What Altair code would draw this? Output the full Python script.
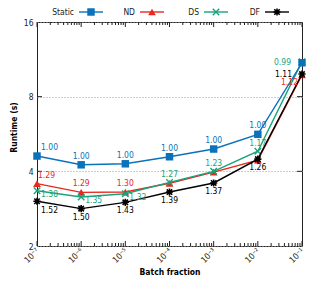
import altair as alt
import pandas as pd

# ---------------- data ----------------
exps = [-7, -6, -5, -4, -3, -2, -1]
batch = [10.0 ** e for e in exps]
x_tick_labels = ["10⁻⁷", "10⁻⁶", "10⁻⁵", "10⁻⁴", "10⁻³", "10⁻²", "10⁻¹"]

series_names = ["Static", "ND", "DS", "DF"]
static_rt = [4.61, 4.25, 4.29, 4.58, 4.92, 5.64, 10.96]
nd_rt = [3.57, 3.29, 3.30, 3.58, 3.97, 4.44, 9.79]
ds_rt = [3.34, 3.15, 3.25, 3.61, 4.00, 4.82, 11.07]
df_rt = [3.03, 2.83, 3.00, 3.30, 3.59, 4.48, 9.87]

static_lab = ["1.00", "1.00", "1.00", "1.00", "1.00", "1.00", ""]
nd_lab = ["1.29", "1.29", "1.30", "", "", "", "1.12"]
ds_lab = ["1.38", "1.35", "1.32", "1.27", "1.23", "1.17", "0.99"]
df_lab = ["1.52", "1.50", "1.43", "1.39", "1.37", "1.26", "1.11"]

y_ticks = [2, 4, 8, 16]
y_grid = [4, 8]
minor_x = [m * 10.0 ** k for k in range(-7, -1) for m in range(2, 10)]

# ---------------- style ----------------
colors = {"Static": "#0a72ba", "ND": "#e8281e", "DS": "#1aa37a", "DF": "#000000"}
FONT = "DejaVu Sans Condensed"
W, H = 265, 224

rows = []
for name, vals, labs in zip(series_names, [static_rt, nd_rt, ds_rt, df_rt],
                            [static_lab, nd_lab, ds_lab, df_lab]):
    for i, (b, v, l) in enumerate(zip(batch, vals, labs)):
        rows.append(dict(series=name, idx=i, batch=b, runtime=v, label=l))
data = pd.DataFrame(rows)

xscale = alt.Scale(type="log", domain=[1e-7, 1e-1], nice=False)
yscale = alt.Scale(type="log", base=2, domain=[2, 16], nice=False)

label_arr = "[" + ",".join("'%s'" % s for s in x_tick_labels) + "]"
x_axis = alt.Axis(values=batch, labelExpr=label_arr + "[round(log(datum.value)/LN10)+7]",
                  labelAngle=315, labelAlign="right", labelBaseline="middle",
                  labelPadding=3, ticks=False, domain=False, grid=False,
                  title="Batch fraction", titleX=W / 2, titleY=25,
                  titleBaseline="middle", titleAlign="center")
y_axis = alt.Axis(values=y_ticks, ticks=False, domain=False, grid=True,
                  gridDash=[1, 2], gridColor="#9a9a9a", gridWidth=1,
                  labelPadding=4, title="Runtime (s)", titleAngle=270,
                  titleX=-24, titleY=105, titleBaseline="middle", titleAlign="center")

X = alt.X("batch:Q", scale=xscale, axis=x_axis)
Y = alt.Y("runtime:Q", scale=yscale, axis=y_axis)

layers = []

# tick marks (inward), frame handled by view stroke
bot_major = pd.DataFrame({"batch": batch})
bot_minor = pd.DataFrame({"batch": minor_x})
for dfx, ln in [(bot_major, 5), (bot_minor, 3)]:
    layers.append(alt.Chart(dfx).mark_rule(color="#222", strokeWidth=1).encode(
        x=X, y=alt.value(H), y2=alt.value(H - ln)))
    layers.append(alt.Chart(dfx).mark_rule(color="#222", strokeWidth=1).encode(
        x=X, y=alt.value(0), y2=alt.value(ln)))
ytk = pd.DataFrame({"runtime": y_grid})
layers.append(alt.Chart(ytk).mark_rule(color="#222", strokeWidth=1).encode(
    y=Y, x=alt.value(0), x2=alt.value(5)))
layers.append(alt.Chart(ytk).mark_rule(color="#222", strokeWidth=1).encode(
    y=Y, x=alt.value(W), x2=alt.value(W - 5)))

star_path = "M-1,0L1,0M0,-1L0,1M-0.75,-0.75L0.75,0.75M-0.75,0.75L0.75,-0.75"
x_path = "M-1,-1L1,1M-1,1L1,-1"
markers = {
    "Static": dict(shape="square", size=56, filled=True),
    "ND": dict(shape="triangle-up", size=60, filled=True),
    "DS": dict(shape=x_path, size=42, filled=False, strokeWidth=1.4),
    "DF": dict(shape=star_path, size=52, filled=False, strokeWidth=1.6),
}

for name in ["ND", "DS", "DF", "Static"]:
    c = colors[name]
    sub = alt.Chart(data).transform_filter(alt.datum.series == name)
    layers.append(sub.mark_line(color=c, strokeWidth=1.4).encode(x=X, y=Y))
    layers.append(sub.mark_point(color=c, opacity=1, **markers[name]).encode(x=X, y=Y))

label_styles = {
    "Static": [([0], 4, -9, "left"), ([1, 2, 3, 4, 5], 0, -9, "center")],
    "ND": [([0], 1, -9, "left"), ([1, 2], 0, -9, "center"), ([6], -4, 7, "right")],
    "DS": [([0, 1, 2], 4, 3, "left"), ([3, 4, 5], 0, -8, "center"), ([6], -11, 0, "right")],
    "DF": [([0], 4, 9, "left"), ([1, 2, 3, 4, 5], 0, 8, "center"), ([6], -10, 0, "right")],
}
for name in ["ND", "DS", "DF", "Static"]:
    for idxs, dx, dy, align in label_styles[name]:
        cond = "datum.series == '%s' && indexof(%s, datum.idx) >= 0" % (name, str(idxs))
        layers.append(alt.Chart(data).transform_filter(cond).mark_text(
            color=colors[name], font=FONT, fontSize=8.5, dx=dx, dy=dy,
            align=align, baseline="middle").encode(x=X, y=Y, text="label:N"))

# legend (gnuplot style: text then sample)
legend_x = [37, 98, 162, 223]
LY = -10
for name, lx in zip(series_names, legend_x):
    c = colors[name]
    one = pd.DataFrame({"series": [name]})
    layers.append(alt.Chart(one).mark_text(font=FONT, fontSize=8.5, align="right",
                                           baseline="middle", color="#222").encode(
        x=alt.value(lx), y=alt.value(LY), text="series:N"))
    layers.append(alt.Chart(one).mark_rule(color=c, strokeWidth=1.4).encode(
        x=alt.value(lx + 5), x2=alt.value(lx + 29), y=alt.value(LY)))
    layers.append(alt.Chart(one).mark_point(color=c, opacity=1, **markers[name]).encode(
        x=alt.value(lx + 17), y=alt.value(LY)))

chart = alt.layer(*layers).properties(
    width=W, height=H,
    autosize=alt.AutoSizeParams(type="none"),
    padding={"left": 29, "top": 14, "right": 6, "bottom": 30},
).configure_view(stroke="#222", strokeWidth=1).configure_axis(
    labelFont=FONT, labelFontSize=8.5, labelColor="#222",
    titleFont=FONT, titleFontSize=8.5, titleColor="#000", titleFontWeight="bold")

chart.save("out.html", embed_options={"renderer": "svg", "actions": False})
